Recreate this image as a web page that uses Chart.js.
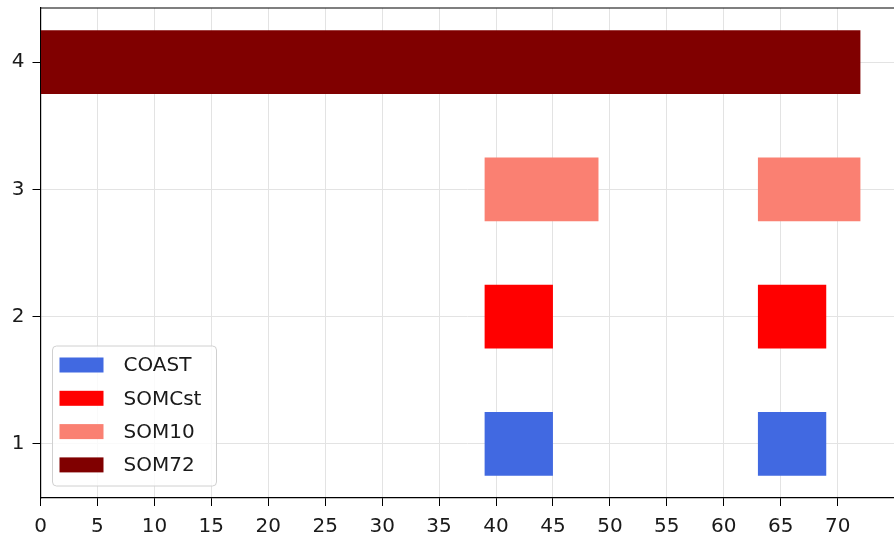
<!DOCTYPE html>
<html>
<head>
<meta charset="utf-8">
<script src="https://cdn.jsdelivr.net/npm/chart.js@4/dist/chart.umd.min.js"></script>
<style>
  html, body { margin: 0; padding: 0; background: #fff; }
  #wrap { width: 894px; height: 537px; }
</style>
</head>
<body>
<div id="wrap"><canvas id="barChart" width="894" height="537"></canvas></div>
<script>
// Rows on the y axis and the [start, end] spans drawn on each row
const seriesNames = ['COAST', 'SOMCst', 'SOM10', 'SOM72'];
const seriesRows = [1, 2, 3, 4];
const coastSpans = [[39, 45], [63, 69]];
const somcstSpans = [[39, 45], [63, 69]];
const som10Spans = [[39, 49], [63, 72]];
const som72Spans = [[0, 72]];
const seriesColors = ['#4169e1', '#ff0000', '#fa8072', '#800000'];

// Tick labels
const xTicks = [0, 5, 10, 15, 20, 25, 30, 35, 40, 45, 50, 55, 60, 65, 70];
const yTicks = [1, 2, 3, 4];

const allSpans = [coastSpans, somcstSpans, som10Spans, som72Spans];

const datasets = seriesNames.map((name, i) => ({
    label: name,
    data: allSpans[i].map(span => ({ x: span, y: seriesRows[i] })),
    backgroundColor: seriesColors[i],
    borderWidth: 0,
    grouped: false,
    categoryPercentage: 1.0,
    barPercentage: 0.5
}));

const FONT = { family: 'DejaVu Sans', size: 20 };

// top spine + legend box in the lower left of the plot
const framePlugin = {
    id: 'frame',
    afterDraw(chart) {
        const ctx = chart.ctx;
        const area = chart.chartArea;
        ctx.save();
        ctx.strokeStyle = '#000';
        ctx.lineWidth = 1.2;
        ctx.beginPath();
        ctx.moveTo(area.left, area.top);
        ctx.lineTo(area.right, area.top);
        ctx.stroke();

        // legend
        const bx = area.left + 12, bw = 164;
        const bh = 140, by = area.bottom - 12 - bh;
        ctx.fillStyle = 'rgba(255,255,255,0.8)';
        ctx.strokeStyle = '#d0d0d0';
        ctx.lineWidth = 1;
        ctx.beginPath();
        ctx.roundRect(bx, by, bw, bh, 4);
        ctx.fill();
        ctx.stroke();

        ctx.font = FONT.size + 'px ' + FONT.family;
        ctx.textBaseline = 'middle';
        ctx.textAlign = 'left';
        chart.data.datasets.forEach((ds, i) => {
            const cy = by + 19 + i * 33.3;
            ctx.fillStyle = ds.backgroundColor;
            ctx.fillRect(bx + 7, cy - 7.5, 44, 15);
            ctx.fillStyle = '#1a1a1a';
            ctx.fillText(ds.label, bx + 71, cy + 1);
        });
        ctx.restore();
    }
};

new Chart(document.getElementById('barChart').getContext('2d'), {
    type: 'bar',
    data: { datasets: datasets },
    options: {
        indexAxis: 'y',
        responsive: false,
        animation: false,
        layout: { padding: { top: 8, left: 0, right: 0, bottom: 0 } },
        plugins: {
            legend: { display: false },
            tooltip: { enabled: false }
        },
        scales: {
            x: {
                type: 'linear',
                min: 0,
                max: 74.95,
                offset: false,
                ticks: { font: FONT, color: '#1a1a1a', padding: 9, maxRotation: 0 },
                afterBuildTicks: scale => { scale.ticks = xTicks.map(v => ({ value: v })); },
                afterFit: scale => { scale.height = 39; scale.paddingLeft = 0; scale.paddingRight = 0; },
                grid: { offset: false, color: '#e3e3e3', lineWidth: 1, tickColor: '#000', tickLength: 8 },
                border: { display: true, color: '#000', width: 1.2 }
            },
            y: {
                type: 'linear',
                min: 0.575,
                max: 4.425,
                offset: false,
                ticks: { font: FONT, color: '#1a1a1a', padding: 8 },
                afterBuildTicks: scale => { scale.ticks = yTicks.map(v => ({ value: v })); },
                afterFit: scale => { scale.width = 40.5; scale.paddingTop = 0; scale.paddingBottom = 0; },
                grid: { offset: false, color: '#e3e3e3', lineWidth: 1, tickColor: '#000', tickLength: 8 },
                border: { display: true, color: '#000', width: 1.2 }
            }
        }
    },
    plugins: [framePlugin]
});
</script>
</body>
</html>
